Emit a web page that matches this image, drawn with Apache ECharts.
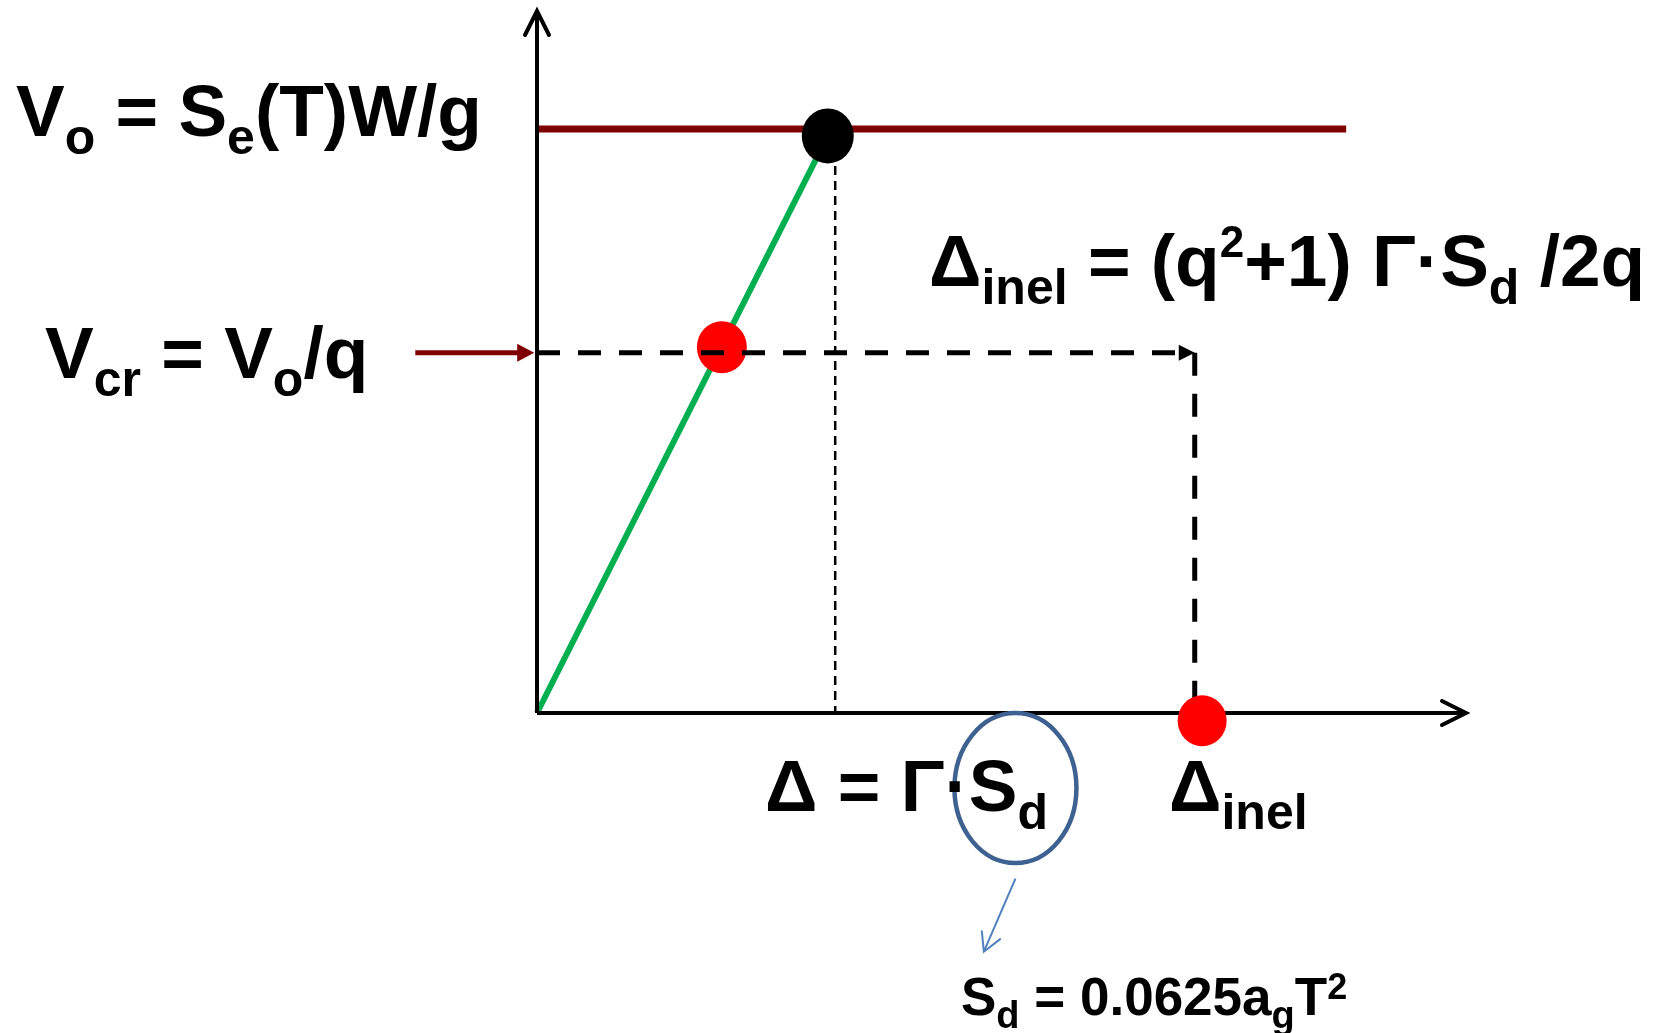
<!DOCTYPE html>
<html><head><meta charset="utf-8">
<script src="https://cdn.jsdelivr.net/npm/echarts@6/dist/echarts.min.js"></script>
<style>html,body{margin:0;padding:0;background:#fff}#c{width:1668px;height:1033px}</style>
</head><body><div id="c"></div>
<script>
// ---- data (axis units 0..100) ----
const xExtent = [0, 100];
const yExtent = [0, 100];
const Vo = 83.2;
const VoLineEnd = 87.1;
const Vcr = 51.3;
const yieldPoint = [31.3, 82.2];
const crackPoint = [19.9, 52.1];
const inelPoint = [71.6, -1.1];
const elasticDisp = 32.1;
const inelDisp = 70.8;
const inelArrowTip = -0.5;
const vcrArrowStart = -13.1;
const vcrArrowEnd = -0.3;
const ellipseCenter = [51.5, -10.7];
const sdArrowStart = [51.5, -23.6];
const sdArrowEnd = [48.1, -34.0];

// ---- labels (text runs) ----
const labelVo = [['V'], ['o', 'sub'], [' = S'], ['e', 'sub'], ['(T)W/g']];
const labelVcr = [['V'], ['cr', 'sub'], [' = V'], ['o', 'sub'], ['/q']];
const labelInelFormula = [['Δ'], ['inel', 'sub'], [' = (q'], ['2', 'sup'], ['+1) Γ·S'], ['d', 'sub'], [' /2q']];
const labelDelta = [['Δ = Γ·S'], ['d', 'sub']];
const labelDeltaInel = [['Δ'], ['inel', 'sub']];
const labelSd = [['S'], ['d', 'sub'], [' = 0.0625a'], ['g', 'sub'], ['T'], ['2', 'sup']];

const FONT = '"Liberation Sans", Arial, Helvetica, sans-serif';
const mctx = document.createElement('canvas').getContext('2d');
function buildText(parts, x, baseline, spec) {
  let cx = x; const els = [];
  for (const [t, kind] of parts) {
    let size = spec.size, base = baseline;
    if (kind === 'sub') { size = spec.subSize; base = baseline + spec.subDrop; }
    if (kind === 'sup') { size = spec.supSize; base = baseline - spec.supRise; }
    const font = `bold ${size}px ${FONT}`;
    mctx.font = font;
    mctx.textBaseline = 'middle';
    const off = mctx.measureText('H').actualBoundingBoxDescent;
    const w = mctx.measureText(t).width;
    els.push({ type: 'text', z: 100, silent: true,
      style: { text: t, x: cx, y: base - off, font, fill: '#000',
        align: 'left', verticalAlign: 'middle', textAlign: 'left', textVerticalAlign: 'middle' } });
    cx += w;
  }
  return els;
}
const big = { size: 73, subSize: 50, subDrop: 18, supSize: 44, supRise: 29 };
const small = { size: 53, subSize: 38, subDrop: 13, supSize: 36, supRise: 16 };
const graphics = [].concat(
  buildText(labelVo, 16, 136, big),
  buildText(labelVcr, 45, 378, big),
  buildText(labelInelFormula, 929, 286, big),
  buildText(labelDelta, 765, 811, big),
  buildText(labelDeltaInel, 1169, 811, big),
  buildText(labelSd, 961, 1015, small)
);

function arrowSeries(data, color, width, dash, head, L, W, z) {
  return {
    type: 'custom', coordinateSystem: 'cartesian2d', z, silent: true, data,
    renderItem(params, api) {
      const p1 = api.coord([api.value(0), api.value(1)]);
      const p2 = api.coord([api.value(2), api.value(3)]);
      const dx = p2[0] - p1[0], dy = p2[1] - p1[1];
      const len = Math.hypot(dx, dy), ux = dx / len, uy = dy / len;
      const nx = -uy, ny = ux;
      const bx = p2[0] - L * ux, by = p2[1] - L * uy;
      const lineEnd = head === 'filled' ? [bx + ux, by + uy] : p2;
      const children = [{
        type: 'line', shape: { x1: p1[0], y1: p1[1], x2: lineEnd[0], y2: lineEnd[1] },
        style: { stroke: color, lineWidth: width, lineDash: dash || null, fill: null }
      }];
      const pts = [[bx + W * nx, by + W * ny], p2, [bx - W * nx, by - W * ny]];
      if (head === 'filled') {
        children.push({ type: 'polygon', shape: { points: pts }, style: { fill: color } });
      } else {
        children.push({ type: 'polyline', shape: { points: pts },
          style: { stroke: color, lineWidth: width, fill: null, lineJoin: 'miter', lineCap: 'round' } });
      }
      return { type: 'group', children };
    }
  };
}

const chart = echarts.init(document.getElementById('c'), null, { renderer: 'canvas' });
chart.setOption({
  animation: false,
  backgroundColor: '#ffffff',
  grid: { left: 537, right: 202, top: 11, bottom: 320, containLabel: false },
  xAxis: { type: 'value', min: xExtent[0], max: xExtent[1], show: false },
  yAxis: { type: 'value', min: yExtent[0], max: yExtent[1], show: false },
  graphic: graphics,
  series: [
    { type: 'line', z: 2, symbol: 'none', clip: false, silent: true,
      data: [[0, 0], yieldPoint], lineStyle: { color: '#00b050', width: 6 } },
    { type: 'line', z: 2, symbol: 'none', clip: false, silent: true,
      data: [[0, Vo], [VoLineEnd, Vo]], lineStyle: { color: '#7f0000', width: 7, cap: 'butt' } },
    { type: 'line', z: 2, symbol: 'none', clip: false, silent: true,
      data: [[elasticDisp, yieldPoint[1]], [elasticDisp, 0]], lineStyle: { color: '#000', width: 2.5, type: [9, 6] } },
    { type: 'scatter', z: 3, clip: false, silent: true, symbolSize: [52, 55],
      data: [yieldPoint], itemStyle: { color: '#000', opacity: 1 } },
    { type: 'scatter', z: 3, clip: false, silent: true, symbolSize: [50, 52],
      data: [crackPoint], itemStyle: { color: '#ff0000', opacity: 1 } },
    arrowSeries([[0, Vcr, inelDisp, Vcr], [inelDisp, Vcr, inelDisp, inelArrowTip]], '#000', 5, [23, 18], 'filled', 16, 8, 4),
    arrowSeries([[0, 0, xExtent[1], 0], [0, 0, 0, yExtent[1]]], '#000', 4, null, 'open', 24, 12, 4),
    arrowSeries([[vcrArrowStart, Vcr, vcrArrowEnd, Vcr]], '#7f0000', 5, null, 'filled', 17, 9, 4),
    arrowSeries([[sdArrowStart[0], sdArrowStart[1], sdArrowEnd[0], sdArrowEnd[1]]], '#4f81bd', 2, null, 'open', 18, 10, 4),
    { type: 'scatter', z: 5, clip: false, silent: true, symbolSize: [49, 51],
      data: [inelPoint], itemStyle: { color: '#ff0000', opacity: 1 } },
    { type: 'custom', coordinateSystem: 'cartesian2d', z: 5, silent: true, data: [ellipseCenter],
      renderItem(params, api) {
        const c = api.coord([api.value(0), api.value(1)]);
        return { type: 'ellipse', shape: { cx: c[0], cy: c[1], rx: 61, ry: 75 },
          style: { fill: null, stroke: '#3d6190', lineWidth: 4.5 } };
      } }
  ]
});
</script></body></html>
